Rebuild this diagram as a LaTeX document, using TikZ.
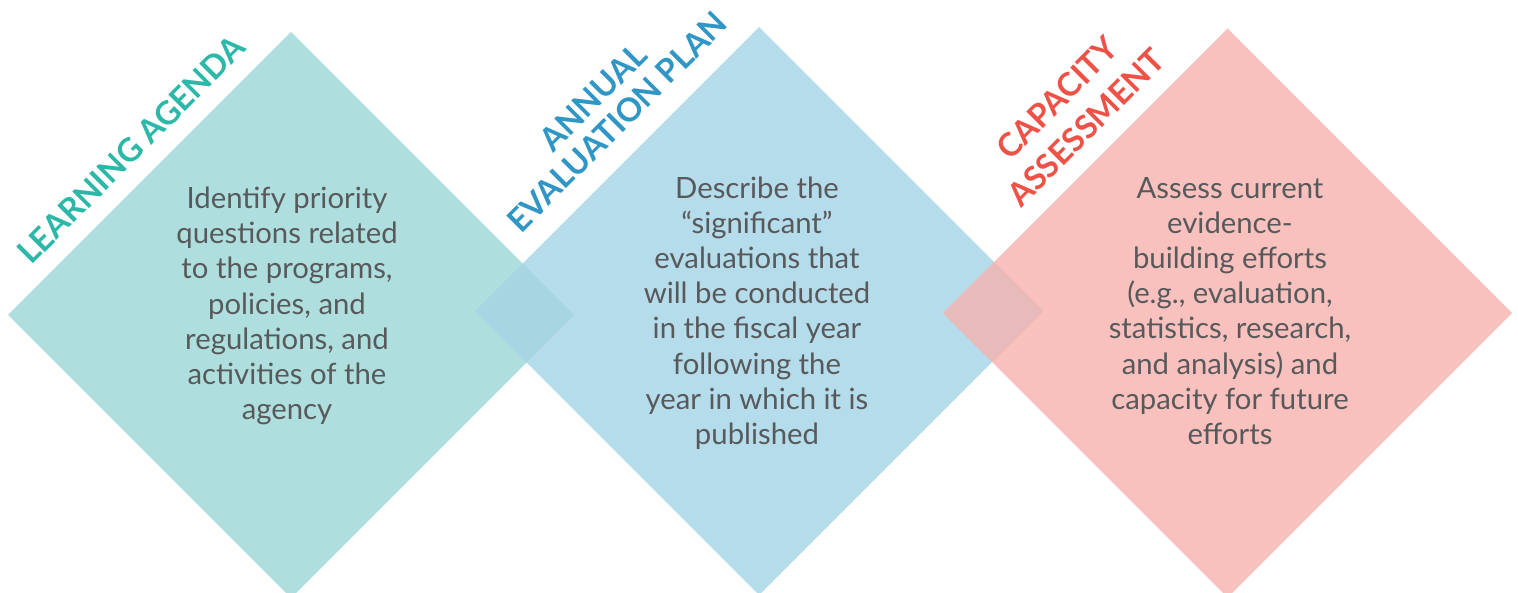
\documentclass[tikz,border=0pt]{standalone}
\usepackage{fontspec}
\setmainfont{Lato}
\definecolor{tealfill}{HTML}{AEDFDE}
\definecolor{bluefill}{HTML}{B5DCEA}
\definecolor{pinkfill}{HTML}{F8C1BE}
\definecolor{tbover}{HTML}{A7D6E2}
\definecolor{bpover}{HTML}{E8BAB9}
\definecolor{bodygray}{HTML}{58595B}
\definecolor{tealtitle}{HTML}{2CB8A8}
\definecolor{bluetitle}{HTML}{2F96C5}
\definecolor{redtitle}{HTML}{EE5247}
\begin{document}
\begin{tikzpicture}[x=1pt,y=-1pt,
  bodytext/.style={align=center,text=bodygray,inner sep=0pt,font=\fontsize{29.3}{35.2}\selectfont},
  titletext/.style={rotate=45,inner sep=0pt,font=\fontsize{32.5}{36}\selectfont\bfseries}]
\useasboundingbox (0,0) rectangle (1518,593);
% diamonds
\fill[tealfill] (8,315) -- (291,32) -- (574,315) -- (291,598) -- cycle;
\fill[bluefill] (475,311) -- (759,27) -- (1043,311) -- (759,595) -- cycle;
\begin{scope}
\clip (8,315) -- (291,32) -- (574,315) -- (291,598) -- cycle;
\fill[tbover] (475,311) -- (759,27) -- (1043,311) -- (759,595) -- cycle;
\end{scope}
\fill[pinkfill] (943,313) -- (1227.5,28.5) -- (1512,313) -- (1227.5,597.5) -- cycle;
\begin{scope}
\clip (475,311) -- (759,27) -- (1043,311) -- (759,595) -- cycle;
\fill[bpover] (943,313) -- (1227.5,28.5) -- (1512,313) -- (1227.5,597.5) -- cycle;
\end{scope}
% titles
\node[titletext,text=tealtitle] (t1) at (131,149.5) {LEARNING AGENDA};
\node[titletext,text=bluetitle] (t2a) at (593,97) {ANNUAL};
\node[titletext,text=bluetitle] (t2b) at (617,122) {EVALUATION PLAN};
\node[titletext,text=redtitle] (t3a) at (1057,98) {CAPACITY};
\node[titletext,text=redtitle] (t3b) at (1086,127.5) {ASSESSMENT};
% body texts
\node[bodytext] (b1) at (287,306) {Identify priority\\questions related\\to the programs,\\policies, and\\regulations, and\\activities of the\\agency};
\node[bodytext] (b2) at (757,313) {Describe the\\“significant”\\evaluations that\\will be conducted\\in the fiscal year\\following the\\year in which it is\\published};
\node[bodytext] (b3) at (1230,311) {Assess current\\evidence-\\building efforts\\(e.g., evaluation,\\statistics, research,\\and analysis) and\\capacity for future\\efforts};
\end{tikzpicture}
\end{document}
